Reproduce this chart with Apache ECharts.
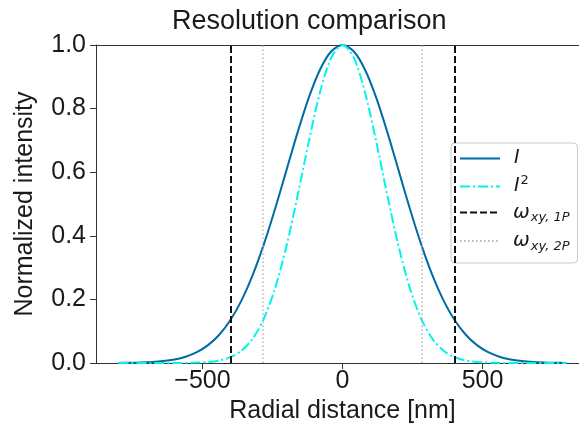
<!DOCTYPE html>
<html>
<head>
<meta charset="utf-8">
<script src="https://cdn.jsdelivr.net/npm/echarts@6/dist/echarts.min.js"></script>
<style>
html, body { margin: 0; padding: 0; background: #fff; }
#chart { width: 579px; height: 430px; }
</style>
</head>
<body>
<div id="chart"></div>
<script>
// radial positions (nm) and normalized intensity
var radialNm = [-800, -760, -720, -680, -640, -600, -560, -520, -480, -440, -400, -360, -320, -280, -240, -200, -160, -120, -80, -40,
    0, 40, 80, 120, 160, 200, 240, 280, 320, 360, 400, 440, 480, 520, 560, 600, 640, 680, 720, 760, 800];
var intensityOne = [0.0003, 0.0007, 0.0015, 0.0031, 0.0060, 0.0111, 0.0198, 0.0340, 0.0561, 0.0889, 0.1353, 0.1979, 0.2780, 0.3753, 0.4868, 0.6065, 0.7261, 0.8353, 0.9231, 0.9802,
    1.0, 0.9802, 0.9231, 0.8353, 0.7261, 0.6065, 0.4868, 0.3753, 0.2780, 0.1979, 0.1353, 0.0889, 0.0561, 0.0340, 0.0198, 0.0111, 0.0060, 0.0031, 0.0015, 0.0007, 0.0003];
var intensityTwo = [0, 0, 0, 0, 0, 0.0001, 0.0004, 0.0012, 0.0032, 0.0079, 0.0183, 0.0392, 0.0773, 0.1409, 0.2369, 0.3679, 0.5273, 0.6977, 0.8521, 0.9608,
    1.0, 0.9608, 0.8521, 0.6977, 0.5273, 0.3679, 0.2369, 0.1409, 0.0773, 0.0392, 0.0183, 0.0079, 0.0032, 0.0012, 0.0004, 0.0001, 0, 0, 0, 0, 0];
var waistOneP = [-400, 400];
var waistTwoP = [-283, 283];
var xTickValues = [-500, 0, 500];

var names = ['I', 'I^2', 'w1P', 'w2P'];
var legendText = {
    'I': '{it|I}',
    'I^2': '{it|I}{sup|2}',
    'w1P': '{w|ω}{sub|xy, 1P}',
    'w2P': '{w|ω}{sub|xy, 2P}'
};

function pairs(xs, ys) {
    return xs.map(function (x, i) { return [x, ys[i]]; });
}

var chart = echarts.init(document.getElementById('chart'));
var font = 'Liberation Sans, Arial, sans-serif';
var axisColor = '#333';

var option = {
    animation: false,
    title: {
        text: 'Resolution comparison',
        left: 167,
        top: 3,
        textStyle: { fontFamily: font, fontSize: 27, fontWeight: 'normal', color: '#1a1a1a' }
    },
    grid: {
        left: 96, top: 45, width: 493, height: 318,
        outerBoundsMode: 'none',
        containLabel: false
    },
    legend: {
        orient: 'vertical',
        left: 451,
        top: 143,
        data: names,
        selectedMode: false,
        itemWidth: 40,
        itemHeight: 14,
        itemGap: 6.5,
        padding: [6, 8, 10, 8],
        backgroundColor: 'rgba(255,255,255,0.85)',
        borderColor: '#c8c8c8',
        borderWidth: 1,
        borderRadius: 4,
        itemStyle: { opacity: 0 },
        formatter: function (name) { return legendText[name]; },
        textStyle: {
            fontFamily: 'DejaVu Sans',
            fontSize: 19,
            color: '#1a1a1a',
            rich: {
                it: { fontFamily: 'DejaVu Sans', fontStyle: 'italic', fontSize: 19, lineHeight: 24, padding: [0, 0, 0, 9] },
                sup: { fontFamily: 'DejaVu Sans', fontSize: 13, lineHeight: 13, verticalAlign: 'top', padding: [0, 0, 0, 1] },
                w: { fontFamily: 'DejaVu Sans', fontStyle: 'italic', fontSize: 20, lineHeight: 24, padding: [0, 0, 0, 8] },
                sub: { fontFamily: 'DejaVu Sans', fontStyle: 'italic', fontSize: 13, lineHeight: 13, verticalAlign: 'bottom', padding: [0, 0, 0, 1] }
            }
        }
    },
    xAxis: [
        {
            type: 'value',
            min: -880,
            max: 880,
            name: 'Radial distance [nm]',
            nameLocation: 'middle',
            nameGap: 30,
            nameTextStyle: { fontFamily: font, fontSize: 25, color: '#1a1a1a' },
            splitLine: { show: false },
            axisLine: { show: true, onZero: false, lineStyle: { color: axisColor, width: 1 } },
            axisTick: { show: true, length: 6, customValues: xTickValues, lineStyle: { color: axisColor } },
            axisLabel: {
                customValues: xTickValues,
                margin: 6,
                fontFamily: font, fontSize: 25, color: '#1a1a1a',
                formatter: function (v) { return String(v).replace('-', '\u2212'); }
            }
        },
        {
            // top spine only
            type: 'value',
            position: 'top',
            min: -880,
            max: 880,
            splitLine: { show: false },
            axisLine: { show: true, onZero: false, lineStyle: { color: axisColor, width: 1 } },
            axisTick: { show: false },
            axisLabel: { show: false }
        }
    ],
    yAxis: {
        type: 'value',
        min: 0,
        max: 1,
        interval: 0.2,
        name: 'Normalized intensity',
        nameLocation: 'middle',
        nameGap: 58,
        nameTextStyle: { fontFamily: font, fontSize: 25, color: '#1a1a1a' },
        splitLine: { show: false },
        axisLine: { show: true, onZero: false, lineStyle: { color: axisColor, width: 1 } },
        axisTick: { show: true, length: 6, lineStyle: { color: axisColor } },
        axisLabel: {
            margin: 10,
            fontFamily: font, fontSize: 25, color: '#1a1a1a',
            formatter: function (v) { return v.toFixed(1); }
        }
    },
    series: [
        {
            name: 'I',
            type: 'line',
            data: pairs(radialNm, intensityOne),
            symbol: 'none',
            smooth: 0.3,
            z: 2,
            lineStyle: { color: '#006ba4', width: 2 },
            itemStyle: { color: '#006ba4' }
        },
        {
            name: 'I^2',
            type: 'line',
            data: pairs(radialNm, intensityTwo),
            symbol: 'none',
            smooth: 0.3,
            z: 3,
            lineStyle: { color: '#00f5ea', width: 2, type: [10, 3, 2, 3] },
            itemStyle: { color: '#00f5ea' }
        },
        {
            name: 'w1P',
            type: 'line',
            data: [],
            symbol: 'none',
            z: 4,
            lineStyle: { color: '#111', width: 2, type: [7, 3] },
            itemStyle: { color: '#111' },
            markLine: {
                silent: true,
                symbol: ['none', 'none'],
                label: { show: false },
                lineStyle: { color: '#111', width: 2, type: [7, 3] },
                data: waistOneP.map(function (x) { return { xAxis: x }; })
            }
        },
        {
            name: 'w2P',
            type: 'line',
            data: [],
            symbol: 'none',
            z: 4,
            lineStyle: { color: '#b5b5b5', width: 1.5, type: [1.5, 2.5] },
            itemStyle: { color: '#b5b5b5' },
            markLine: {
                silent: true,
                symbol: ['none', 'none'],
                label: { show: false },
                lineStyle: { color: '#b5b5b5', width: 1.5, type: [1.5, 2.5] },
                data: waistTwoP.map(function (x) { return { xAxis: x }; })
            }
        }
    ]
};

chart.setOption(option);
</script>
</body>
</html>
